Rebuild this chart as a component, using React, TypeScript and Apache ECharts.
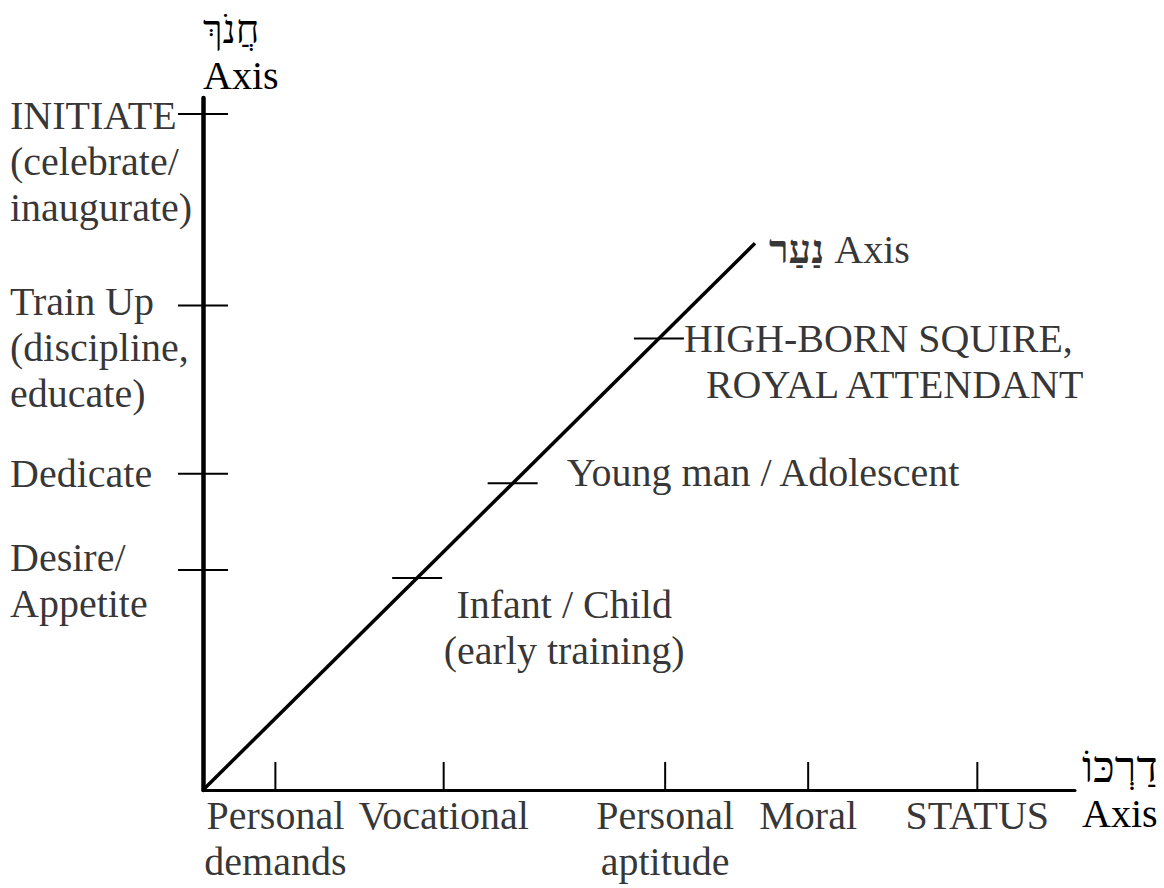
import React, { useEffect, useRef } from 'react';
import * as echarts from 'echarts';

const FONT = "'Liberation Serif', 'Times New Roman', serif";
const HEB_FONT = "'Liberation Serif', 'DejaVu Serif', 'DejaVu Sans', serif";

// extent of the two drawn axes (arbitrary units)
const X_MAX = 100;
const Y_MAX = 100;

// horizontal axis (דַרְכּוֹ)
const darkoCategories = ['Personal\ndemands', 'Vocational', 'Personal\naptitude', 'Moral', 'STATUS'];
const darkoValues = [8.3, 27.6, 53.0, 69.4, 88.8];

// vertical axis (חֲנֹךְ)
const chanokCategories = [
  'INITIATE\n(celebrate/\ninaugurate)',
  'Train Up\n(discipline,\neducate)',
  'Dedicate',
  'Desire/\nAppetite',
];
const chanokValues = [97.7, 70.0, 45.7, 31.8];

// diagonal axis (נַעַר): end point and positions (fraction of its length)
const naarEnd = [63.3, 79.0];
const naarCategories = ['Infant / Child\n(early training)', 'Young man / Adolescent', 'HIGH-BORN SQUIRE,\nROYAL ATTENDANT'];
const naarValues = [0.388, 0.561, 0.826];

const chanokTitle = 'חֲנֹךְ';
const darkoTitle = 'דַרְכּוֹ';
const naarTitle = 'נַעַר';
const axisWord = 'Axis';

// layout (pixels)
const GRID = { left: 203, top: 98, width: 872, height: 692 };
const PX_X = GRID.width / X_MAX;
const PX_Y = GRID.height / Y_MAX;
const TICK_HALF = 25 / PX_X; // half-length of horizontal tick marks
const X_TICK_H = 28 / PX_Y; // height of tick marks on horizontal axis
const LABEL_COL = -193 / PX_X; // left edge of the vertical-axis label column

const FS = 40;
const LH = 46;

export default function App() {
  const ref = useRef<HTMLDivElement>(null);
  useEffect(() => {
    if (!ref.current) return;
    const chart = echarts.init(ref.current, null, { renderer: 'svg' });

    const tickRows: number[][] = [];
    chanokValues.forEach((v) => tickRows.push([-TICK_HALF, v, TICK_HALF, v]));
    darkoValues.forEach((v) => tickRows.push([v, 0, v, X_TICK_H]));
    naarValues.forEach((f) => {
      const x = naarEnd[0] * f;
      const y = naarEnd[1] * f;
      tickRows.push([x - TICK_HALF, y, x + TICK_HALF, y]);
    });

    const baseLabel = {
      show: true,
      color: '#000',
      fontFamily: FONT,
      fontSize: FS,
      lineHeight: LH,
    };

    const chanokOffsets = [48, 42, 0, 11];
    const labelItems: any[] = [];
    chanokCategories.forEach((c, i) => {
      labelItems.push({
        value: [LABEL_COL, chanokValues[i]],
        label: { ...baseLabel, formatter: c, position: 'right', distance: 0, offset: [0, chanokOffsets[i]] },
      });
    });
    darkoCategories.forEach((c, i) => {
      labelItems.push({
        value: [darkoValues[i], 0],
        label: { ...baseLabel, formatter: c, position: 'bottom', distance: 2, align: 'center' },
      });
    });
    const naarPts = naarValues.map((f) => [naarEnd[0] * f, naarEnd[1] * f]);
    labelItems.push({
      value: naarPts[0],
      label: { ...baseLabel, formatter: naarCategories[0], position: 'bottom', distance: 4, offset: [147, 0], align: 'center' },
    });
    labelItems.push({
      value: naarPts[1],
      label: { ...baseLabel, formatter: naarCategories[1], position: 'right', distance: 54, offset: [0, -11] },
    });
    labelItems.push({
      value: naarPts[2],
      label: {
        ...baseLabel,
        formatter: naarCategories[2]
          .split('\n')
          .map((s, k) => `{${k === 0 ? 'a' : 'b'}|${s}}`)
          .join('\n'),
        position: 'right',
        distance: 25,
        offset: [0, 23],
        rich: {
          a: { fontFamily: FONT, fontSize: FS, lineHeight: LH, color: '#000' },
          b: { fontFamily: FONT, fontSize: FS, lineHeight: LH, color: '#000', padding: [0, 0, 0, 22] },
        },
      },
    });
    labelItems.push({
      value: naarEnd,
      label: {
        ...baseLabel,
        formatter: `{h|${naarTitle}} {a|${axisWord}}`,
        position: 'right',
        distance: 14,
        offset: [0, 6],
        rich: {
          h: { fontFamily: HEB_FONT, fontSize: 40, fontWeight: 'bold', color: '#000', lineHeight: LH },
          a: { fontFamily: FONT, fontSize: FS, color: '#000', lineHeight: LH },
        },
      },
    });

    chart.setOption({
      animation: false,
      backgroundColor: '#fff',
      grid: { ...GRID },
      xAxis: {
        type: 'value',
        min: 0,
        max: X_MAX,
        axisLine: { show: true, lineStyle: { color: '#000', width: 3 } },
        axisTick: { show: false },
        axisLabel: { show: false },
        splitLine: { show: false },
        name: `{h|${darkoTitle}}\n{a|${axisWord}}`,
        nameLocation: 'end',
        nameGap: 7,
        nameTextStyle: {
          align: 'left',
          verticalAlign: 'middle',
          rich: {
            h: { fontFamily: HEB_FONT, fontSize: 44, lineHeight: LH, color: '#000' },
            a: { fontFamily: FONT, fontSize: FS, lineHeight: LH, color: '#000' },
          },
        },
      },
      yAxis: {
        type: 'value',
        min: 0,
        max: Y_MAX,
        axisLine: { show: true, lineStyle: { color: '#000', width: 4.5 } },
        axisTick: { show: false },
        axisLabel: { show: false },
        splitLine: { show: false },
        name: `{h|${chanokTitle}}\n{a|${axisWord}}`,
        nameLocation: 'end',
        nameGap: 0,
        nameTextStyle: {
          align: 'left',
          verticalAlign: 'bottom',
          rich: {
            h: { fontFamily: HEB_FONT, fontSize: 40, lineHeight: LH, color: '#000' },
            a: { fontFamily: FONT, fontSize: FS, lineHeight: LH, color: '#000' },
          },
        },
      },
      series: [
        {
          type: 'line',
          data: [[0, 0], naarEnd],
          symbol: 'none',
          lineStyle: { color: '#000', width: 3.5 },
          silent: true,
        },
        {
          type: 'custom',
          data: tickRows,
          encode: { x: [0, 2], y: [1, 3] },
          silent: true,
          renderItem: (_p: any, api: any) => {
            const a = api.coord([api.value(0), api.value(1)]);
            const b = api.coord([api.value(2), api.value(3)]);
            return {
              type: 'line',
              shape: { x1: a[0], y1: a[1], x2: b[0], y2: b[1] },
              style: { stroke: '#000', lineWidth: 2 },
            };
          },
        },
        {
          type: 'scatter',
          data: labelItems,
          symbolSize: 0,
          clip: false,
          silent: true,
        },
      ],
    });
    return () => chart.dispose();
  }, []);
  return (
    <div
      ref={ref}
      style={{ position: 'absolute', left: 0, top: 0, width: 1164, height: 888, background: '#fff' }}
    />
  );
}
